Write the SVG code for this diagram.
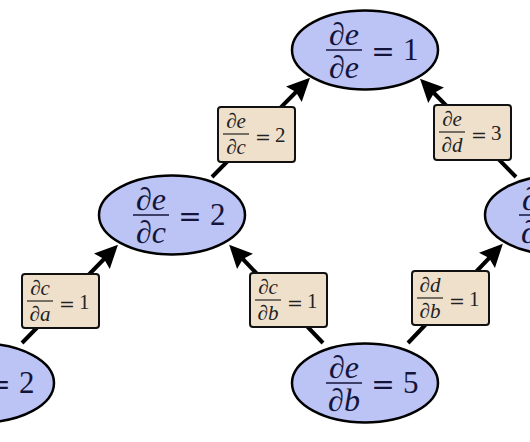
<svg xmlns="http://www.w3.org/2000/svg" width="530" height="442" viewBox="0 0 530 442">
<style>
.bg{fill:#ffffff}
.node ellipse{fill:#bcc3f5;stroke:#000;stroke-width:2.5}
.num{font-family:"Liberation Serif",serif;font-style:italic;font-size:32px;fill:#14143a;text-anchor:middle}
.eq{font-family:"DejaVu Serif",serif;font-size:28px;fill:#14143a;text-anchor:middle}
.dig{font-family:"Liberation Serif",serif;font-size:31px;fill:#14143a}
.bar{stroke:#14143a;stroke-width:1.6}
.lbl rect{fill:#efe0cc;stroke:#111;stroke-width:2}
.snum{font-family:"Liberation Serif",serif;font-style:italic;font-size:21px;fill:#222;text-anchor:middle}
.seq{font-family:"DejaVu Serif",serif;font-size:19px;fill:#222;text-anchor:middle}
.sdig{font-family:"Liberation Serif",serif;font-size:21px;fill:#222}
.sbar{stroke:#222;stroke-width:1.2}
.edge{stroke:#000;stroke-width:4;fill:none;marker-end:url(#arr)}
</style>
<defs>
<marker id="arr" markerUnits="userSpaceOnUse" markerWidth="26" markerHeight="26" refX="8" refY="13" orient="auto" overflow="visible">
<path d="M0,2 L23,13 L0,24 L3,13 Z" fill="#000"/>
</marker>
</defs>
<rect class="bg" x="0" y="0" width="530" height="442"/>
<g id="connectors">
<line class="edge" x1="22" y1="343" x2="107.5" y2="255.5"/>
<line class="edge" x1="323" y1="343" x2="239.5" y2="255.5"/>
<line class="edge" x1="408" y1="343" x2="492.5" y2="254.5"/>
<line class="edge" x1="212" y1="177" x2="299.5" y2="88.5"/>
<line class="edge" x1="516" y1="177" x2="430.5" y2="89.5"/>
</g>
<g id="label-dedc" class="lbl" transform="translate(218,107)">
<rect width="77" height="55" rx="3"/>
<text class="snum" x="18" y="21">∂e</text>
<line class="sbar" x1="5" y1="27" x2="31" y2="27"/>
<text class="snum" x="18" y="47">∂c</text>
<text class="seq" x="45" y="37">=</text>
<text class="sdig" x="57" y="35">2</text>
</g>
<g id="label-dedd" class="lbl" transform="translate(434,105)">
<rect width="77" height="55" rx="3"/>
<text class="snum" x="18" y="21">∂e</text>
<line class="sbar" x1="5" y1="27" x2="31" y2="27"/>
<text class="snum" x="18" y="47">∂d</text>
<text class="seq" x="45" y="37">=</text>
<text class="sdig" x="57" y="35">3</text>
</g>
<g id="label-dcda" class="lbl" transform="translate(22,274)">
<rect width="77" height="54" rx="3"/>
<text class="snum" x="18" y="21">∂c</text>
<line class="sbar" x1="5" y1="27" x2="31" y2="27"/>
<text class="snum" x="18" y="47">∂a</text>
<text class="seq" x="45" y="37">=</text>
<text class="sdig" x="57" y="35">1</text>
</g>
<g id="label-dcdb" class="lbl" transform="translate(250,273)">
<rect width="77" height="54" rx="3"/>
<text class="snum" x="18" y="21">∂c</text>
<line class="sbar" x1="5" y1="27" x2="31" y2="27"/>
<text class="snum" x="18" y="47">∂b</text>
<text class="seq" x="45" y="37">=</text>
<text class="sdig" x="57" y="35">1</text>
</g>
<g id="label-dddb" class="lbl" transform="translate(412,271)">
<rect width="77" height="54" rx="3"/>
<text class="snum" x="18" y="21">∂d</text>
<line class="sbar" x1="5" y1="27" x2="31" y2="27"/>
<text class="snum" x="18" y="47">∂b</text>
<text class="seq" x="45" y="37">=</text>
<text class="sdig" x="57" y="35">1</text>
</g>
<g id="node-e" class="node" transform="translate(365,50)">
<ellipse rx="73" ry="39.5"/>
<text class="num" x="-21" y="-5">∂e</text>
<line class="bar" x1="-39" y1="0" x2="-3" y2="0"/>
<text class="num" x="-21" y="28">∂e</text>
<text class="eq" x="18" y="11">=</text>
<text class="dig" x="38" y="10">1</text>
</g>
<g id="node-c" class="node" transform="translate(172,215)">
<ellipse rx="73" ry="39.5"/>
<text class="num" x="-21" y="-5">∂e</text>
<line class="bar" x1="-39" y1="0" x2="-3" y2="0"/>
<text class="num" x="-21" y="28">∂c</text>
<text class="eq" x="18" y="11">=</text>
<text class="dig" x="38" y="10">2</text>
</g>
<g id="node-d" class="node" transform="translate(558,215)">
<ellipse rx="73" ry="39.5"/>
<text class="num" x="-21" y="-5">∂e</text>
<line class="bar" x1="-39" y1="0" x2="-3" y2="0"/>
<text class="num" x="-21" y="28">∂d</text>
<text class="eq" x="18" y="11">=</text>
<text class="dig" x="38" y="10">3</text>
</g>
<g id="node-a" class="node" transform="translate(-19,383)">
<ellipse rx="73" ry="39.5"/>
<text class="num" x="-21" y="-5">∂e</text>
<line class="bar" x1="-39" y1="0" x2="-3" y2="0"/>
<text class="num" x="-21" y="28">∂a</text>
<text class="eq" x="18" y="11">=</text>
<text class="dig" x="38" y="10">2</text>
</g>
<g id="node-b" class="node" transform="translate(365,383)">
<ellipse rx="73" ry="39.5"/>
<text class="num" x="-21" y="-5">∂e</text>
<line class="bar" x1="-39" y1="0" x2="-3" y2="0"/>
<text class="num" x="-21" y="28">∂b</text>
<text class="eq" x="18" y="11">=</text>
<text class="dig" x="38" y="10">5</text>
</g>
</svg>
